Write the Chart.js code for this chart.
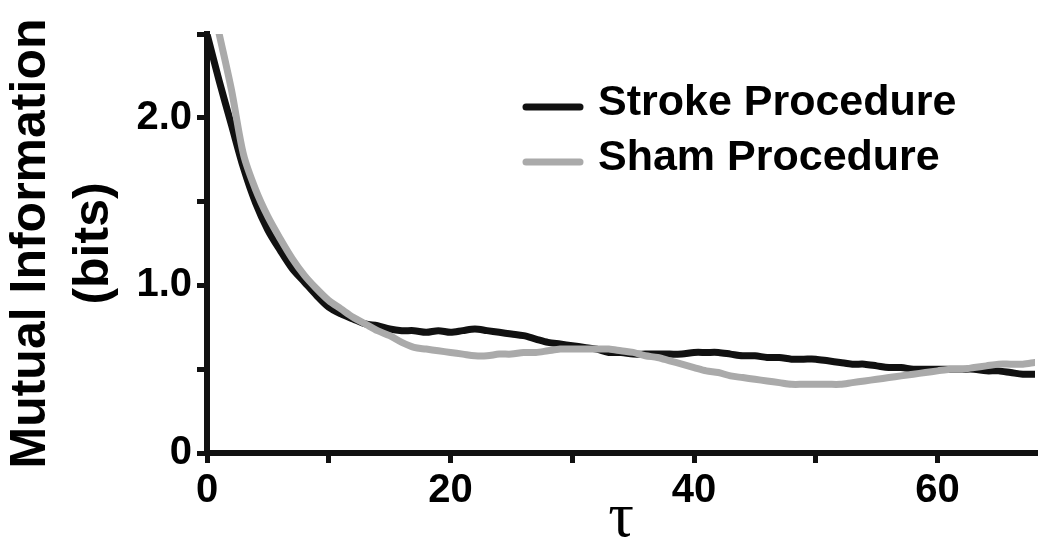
<!DOCTYPE html>
<html>
<head>
<meta charset="utf-8">
<script src="https://cdn.jsdelivr.net/npm/chart.js@4/dist/chart.umd.min.js"></script>
<style>
  html, body { margin: 0; padding: 0; background: #fff; }
  #wrap { width: 1050px; height: 558px; }
</style>
</head>
<body>
<div id="wrap"><canvas id="graph" width="1050" height="558"></canvas></div>
<script>
// lag values (tau)
var tau = [0, 1, 2, 3, 4, 5, 6, 7, 8, 9, 10, 11, 12, 13, 14, 15, 16, 17, 18, 19,
  20, 21, 22, 23, 24, 25, 26, 27, 28, 29, 30, 31, 32, 33, 34, 35, 36, 37, 38, 39,
  40, 41, 42, 43, 44, 45, 46, 47, 48, 49, 50, 51, 52, 53, 54, 55, 56, 57, 58, 59,
  60, 61, 62, 63, 64, 65, 66, 67, 68];

// mutual information (bits)
var strokeMI = [2.50, 2.22, 1.96, 1.70, 1.49, 1.33, 1.21, 1.10, 1.02, 0.94,
  0.87, 0.83, 0.80, 0.77, 0.76, 0.74, 0.73, 0.73, 0.72, 0.73,
  0.72, 0.73, 0.74, 0.73, 0.72, 0.71, 0.70, 0.68, 0.66, 0.65,
  0.64, 0.63, 0.62, 0.60, 0.60, 0.59, 0.59, 0.59, 0.59, 0.59,
  0.60, 0.60, 0.60, 0.59, 0.58, 0.58, 0.57, 0.57, 0.56, 0.56,
  0.56, 0.55, 0.54, 0.53, 0.53, 0.52, 0.51, 0.51, 0.50, 0.50,
  0.50, 0.50, 0.50, 0.50, 0.49, 0.49, 0.48, 0.47, 0.47];

var shamMI = [null, 2.50, 2.17, 1.78, 1.57, 1.41, 1.28, 1.16, 1.06, 0.98,
  0.91, 0.86, 0.81, 0.77, 0.73, 0.70, 0.66, 0.63, 0.62, 0.61,
  0.60, 0.59, 0.58, 0.58, 0.59, 0.59, 0.60, 0.60, 0.61, 0.62,
  0.62, 0.62, 0.62, 0.62, 0.61, 0.60, 0.58, 0.57, 0.55, 0.53,
  0.51, 0.49, 0.48, 0.46, 0.45, 0.44, 0.43, 0.42, 0.41, 0.41,
  0.41, 0.41, 0.41, 0.42, 0.43, 0.44, 0.45, 0.46, 0.47, 0.48,
  0.49, 0.50, 0.50, 0.51, 0.52, 0.53, 0.53, 0.53, 0.54];

var seriesNames = ['Stroke Procedure', 'Sham Procedure'];
var seriesColors = ['#111111', '#aaaaaa'];

function toPoints(ys) {
  return tau.map(function(t, i) { return { x: t, y: ys[i] }; });
}

// simple legend drawn in the upper right of the plot
var legendPlugin = {
  id: 'sideLegend',
  afterDraw: function(chart) {
    var ctx = chart.ctx;
    ctx.save();
    ctx.font = 'bold 43px "Liberation Sans", Arial, sans-serif';
    ctx.textBaseline = 'alphabetic';
    ctx.textAlign = 'left';
    for (var i = 0; i < seriesNames.length; i++) {
      var y = 107 + i * 55;
      ctx.strokeStyle = seriesColors[i];
      ctx.lineWidth = 7;
      ctx.lineCap = 'round';
      ctx.beginPath();
      ctx.moveTo(526, y);
      ctx.lineTo(580, y);
      ctx.stroke();
      ctx.fillStyle = '#000';
      ctx.fillText(seriesNames[i], 598, y + 8);
    }
    ctx.restore();
  }
};

Chart.defaults.font.family = '"Liberation Sans", Arial, sans-serif';
Chart.defaults.color = '#000';

var ctx = document.getElementById('graph').getContext('2d');
var myChart = new Chart(ctx, {
  type: 'line',
  data: {
    datasets: [{
      label: seriesNames[0],
      data: toPoints(strokeMI),
      borderColor: seriesColors[0],
      borderWidth: 7,
      pointRadius: 0,
      tension: 0.3,
      borderCapStyle: 'round',
      borderJoinStyle: 'round',
      order: 1
    }, {
      label: seriesNames[1],
      data: toPoints(shamMI),
      borderColor: seriesColors[1],
      borderWidth: 7,
      pointRadius: 0,
      tension: 0.3,
      borderCapStyle: 'round',
      borderJoinStyle: 'round',
      order: 0
    }]
  },
  options: {
    responsive: false,
    animation: false,
    layout: { padding: { top: 34, right: 15, left: 0, bottom: 0 } },
    plugins: { legend: { display: false }, tooltip: { enabled: false } },
    scales: {
      x: {
        type: 'linear',
        min: 0,
        max: 68,
        border: { color: '#111', width: 6 },
        grid: { drawOnChartArea: false, color: '#111', tickLength: 10, lineWidth: 5 },
        ticks: {
          stepSize: 10,
          includeBounds: false,
          maxRotation: 0,
          padding: 4,
          font: { size: 40, weight: 'bold' },
          callback: function(v) {
            if (v % 10 !== 0) return null;
            return v % 20 === 0 ? String(v) : '';
          }
        },
        title: {
          display: true,
          text: 'τ',
          font: { family: '"Liberation Serif", "DejaVu Serif", serif', size: 64 },
          padding: { top: -16, bottom: 0 }
        },
        afterFit: function(scale) { scale.height = 105; }
      },
      y: {
        min: 0,
        max: 2.5,
        border: { color: '#111', width: 6 },
        grid: { drawOnChartArea: false, color: '#111', tickLength: 10, lineWidth: 5 },
        ticks: {
          stepSize: 0.5,
          padding: 5,
          font: { size: 40, weight: 'bold' },
          callback: function(v) {
            if (v === 0) return '0';
            return v % 1 === 0 ? v.toFixed(1) : '';
          }
        },
        title: {
          display: true,
          text: ['Mutual Information', '(bits)'],
          font: { size: 50, weight: 'bold', lineHeight: 1.25 },
          padding: { top: 0, bottom: 0 }
        },
        afterFit: function(scale) { scale.width = 207; }
      }
    }
  },
  plugins: [legendPlugin]
});
</script>
</body>
</html>
